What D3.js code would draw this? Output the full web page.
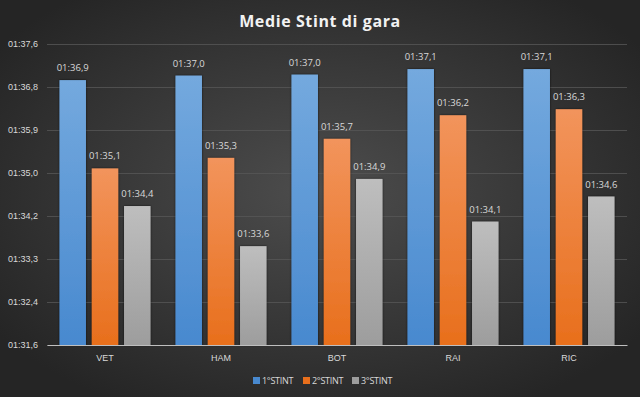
<!DOCTYPE html>
<html>
<head>
<meta charset="utf-8">
<script src="https://cdn.jsdelivr.net/npm/d3@7"></script>
<style>
  html, body { margin: 0; padding: 0; background: #262626; }
  svg { display: block; font-family: "Open Sans", "Liberation Sans", sans-serif; }
</style>
</head>
<body>
<script>
// categories and series (average lap time in seconds)
var drivers = ["VET", "HAM", "BOT", "RAI", "RIC"];
var series = ["1°STINT", "2°STINT", "3°STINT"];
var stint1 = [96.88, 96.97, 96.99, 97.10, 97.10];
var stint2 = [95.12, 95.33, 95.71, 96.18, 96.30];
var stint3 = [94.37, 93.57, 94.91, 94.06, 94.56];
var yTickLabels = ["01:31,6", "01:32,4", "01:33,3", "01:34,2", "01:35,0", "01:35,9", "01:36,8", "01:37,6"];
var yMin = 91.6, yMax = 97.6;

var W = 640, H = 397;
var margin = {top: 44, right: 13, bottom: 52, left: 47};
var width = W - margin.left - margin.right,
    height = H - margin.top - margin.bottom;

var colors = {
  "1°STINT": ["#74a9de", "#4889cf"],
  "2°STINT": ["#f2945c", "#e86f1c"],
  "3°STINT": ["#bebebe", "#9d9d9d"]
};

var svg = d3.select("body").append("svg")
    .attr("width", W)
    .attr("height", H);

var defs = svg.append("defs");
var bg = defs.append("radialGradient").attr("id", "bg")
    .attr("cx", "50%").attr("cy", "48%").attr("r", "62%");
bg.append("stop").attr("offset", "0%").attr("stop-color", "#4d4d4d");
bg.append("stop").attr("offset", "100%").attr("stop-color", "#252525");

series.forEach(function(s, i) {
  var g = defs.append("linearGradient").attr("id", "g" + i)
      .attr("x1", 0).attr("y1", 0).attr("x2", 0).attr("y2", 1);
  g.append("stop").attr("offset", "0%").attr("stop-color", colors[s][0]);
  g.append("stop").attr("offset", "100%").attr("stop-color", colors[s][1]);
});

var shadow = defs.append("filter").attr("id", "shadow")
    .attr("x", "-20%").attr("y", "-5%").attr("width", "140%").attr("height", "110%");
shadow.append("feDropShadow").attr("dx", 0).attr("dy", 0)
    .attr("stdDeviation", 1.2).attr("flood-color", "#000").attr("flood-opacity", 0.7);

svg.append("rect").attr("width", W).attr("height", H).attr("fill", "url(#bg)");

svg.append("text")
    .attr("x", W / 2).attr("y", 27)
    .attr("text-anchor", "middle")
    .attr("fill", "#f2f2f2")
    .attr("font-size", "16px")
    .attr("font-weight", "bold")
    .attr("letter-spacing", "0.6px")
    .text("Medie Stint di gara");

var chart = svg.append("g")
    .attr("transform", "translate(" + margin.left + "," + margin.top + ")");

var x0 = d3.scaleBand().domain(drivers).range([0, width]);
var x1 = d3.scaleBand().domain(series).range([12.5, x0.bandwidth() - 12.5]).paddingInner(0.18);
var y = d3.scaleLinear().domain([yMin, yMax]).range([height, 0]);

// gridlines + y labels
var tickVals = yTickLabels.map(function(d, i) { return yMin + i * (yMax - yMin) / (yTickLabels.length - 1); });
var yAxis = d3.axisLeft(y)
    .tickValues(tickVals)
    .tickSize(-width)
    .tickPadding(9)
    .tickFormat(function(d, i) { return yTickLabels[i]; });

var gy = chart.append("g").call(yAxis);
gy.select(".domain").remove();
gy.selectAll(".tick line").attr("stroke", "#575757").attr("stroke-width", 0.8);
gy.selectAll(".tick text").attr("fill", "#d9d9d9").attr("font-size", "9px");

var data = drivers.map(function(d, i) {
  return {driver: d, values: [stint1[i], stint2[i], stint3[i]]};
});

var groups = chart.selectAll(".grp")
    .data(data)
  .enter().append("g")
    .attr("class", "grp")
    .attr("transform", function(d) { return "translate(" + x0(d.driver) + ",0)"; });

groups.selectAll("rect")
    .data(function(d) { return d.values.map(function(v, i) { return {s: series[i], i: i, v: v}; }); })
  .enter().append("rect")
    .attr("x", function(d) { return x1(d.s); })
    .attr("y", function(d) { return y(d.v); })
    .attr("width", x1.bandwidth())
    .attr("height", function(d) { return height - y(d.v); })
    .attr("fill", function(d) { return "url(#g" + d.i + ")"; })
    .attr("filter", "url(#shadow)");

function fmt(v) {
  var s = v - 60;
  return "01:" + s.toFixed(1).replace(".", ",");
}

groups.selectAll(".lbl")
    .data(function(d) { return d.values.map(function(v, i) { return {s: series[i], v: v}; }); })
  .enter().append("text")
    .attr("class", "lbl")
    .attr("x", function(d) { return x1(d.s) + x1.bandwidth() / 2; })
    .attr("y", function(d) { return y(d.v) - 9; })
    .attr("text-anchor", "middle")
    .attr("fill", "#d9d9d9")
    .attr("font-size", "9.5px")
    .text(function(d) { return fmt(d.v); });

// x axis
var gx = chart.append("g")
    .attr("transform", "translate(0," + height + ")")
    .call(d3.axisBottom(x0).tickSize(0).tickPadding(10));
gx.select(".domain").attr("stroke", "#bfbfbf").attr("stroke-width", 1);
gx.selectAll(".tick text").attr("fill", "#d9d9d9").attr("font-size", "9px");

// legend
var legend = svg.append("g").attr("transform", "translate(0,381)");
var legX = [253, 303, 352];
series.forEach(function(s, i) {
  var item = legend.append("g").attr("transform", "translate(" + legX[i] + ",0)");
  item.append("rect")
      .attr("x", 0).attr("y", -4).attr("width", 7).attr("height", 7)
      .attr("fill", colors[s][1]);
  item.append("text")
      .attr("x", 9).attr("y", 3)
      .attr("fill", "#d9d9d9")
      .attr("font-size", "9px")
      .attr("letter-spacing", "-0.3px")
      .text(s);
});
</script>
</body>
</html>
